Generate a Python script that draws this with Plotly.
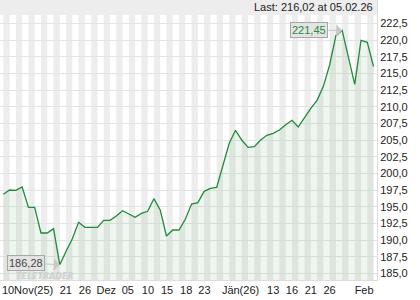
import plotly.graph_objects as go

# ---- data ----
prices = [196.85, 197.5, 197.45, 197.95, 194.9, 194.9, 191.05, 191.05, 191.7, 186.28,
          188.3, 190.2, 192.65, 191.9, 191.9, 191.9, 192.95, 192.95, 193.6, 194.4,
          193.9, 193.4, 194.0, 194.3, 196.2, 194.5, 190.6, 191.5, 191.5, 193.1,
          195.4, 195.6, 197.3, 197.75, 197.9, 201.2, 204.5, 206.45, 205.0, 203.9,
          204.0, 205.0, 205.7, 206.0, 206.5, 207.3, 207.95, 206.95, 208.45, 209.75,
          210.95, 213.05, 216.25, 220.65, 221.45, 217.4, 213.35, 219.95, 219.65, 216.02]
x_idx = list(range(len(prices)))

x_tick_pos = [3.86, 9.95, 13.0, 16.4, 19.85, 23.05, 26.1, 29.15, 32.05, 37.8, 43.0, 46.0, 49.0, 52.0, 57.5]
x_tick_labels = ["10Nov(25)", "21", "26", "Dez", "05", "10", "15", "18", "23",
                 "Jän(26)", "13", "16", "21", "26", "Feb"]
y_ticks = [185.0, 187.5, 190.0, 192.5, 195.0, 197.5, 200.0, 202.5, 205.0,
           207.5, 210.0, 212.5, 215.0, 217.5, 220.0, 222.5]
last_date = "05.02.26"

Y_MIN, Y_MAX = 184.0, 226.0
X_MIN, X_MAX = -0.53, 59.55
TOP_BAND = 1 - 15 / 280
STRIPE = "#ededed"

fmt = lambda v: f"{v:.2f}".replace(".", ",")

fig = go.Figure()
fig.add_trace(go.Scatter(
    x=x_idx, y=prices, mode="lines",
    line=dict(color="#1f8b3b", width=1.3),
    fill="tozeroy", fillcolor="rgba(40,120,40,0.075)",
    hoverinfo="skip", showlegend=False,
))

# top grey band
fig.add_shape(type="rect", xref="paper", yref="paper", x0=0, x1=1, y0=TOP_BAND, y1=1,
              fillcolor=STRIPE, line=dict(width=0), layer="below")
# alternating day stripes
for i in range(0, len(prices), 2):
    fig.add_shape(type="rect", xref="x", yref="paper", x0=i, x1=i + 1,
                  y0=0, y1=TOP_BAND, fillcolor=STRIPE, line=dict(width=0), layer="below")

imax = max(range(len(prices)), key=lambda k: prices[k])
imin = min(range(len(prices)), key=lambda k: prices[k])

annotations = [
    dict(x=imax, y=prices[imax], xref="x", yref="y", text=fmt(prices[imax]),
         showarrow=True, ax=-33, ay=0, arrowhead=1, arrowsize=2, arrowwidth=1,
         arrowcolor="#c8c8c8", standoff=0,
         bgcolor="rgba(225,225,225,0.9)", bordercolor="#a8a8a8", borderwidth=1, borderpad=1,
         font=dict(color="#2a8a3c", size=11, family="Arial")),
    dict(x=14 / 376.7, y=1 - 276.5 / 280, xref="paper", yref="paper", text="<b><i>TELETRADER</i></b>",
         showarrow=False, xanchor="left", yanchor="middle",
         font=dict(color="#d0d0d0", size=8, family="DejaVu Sans")),
    dict(x=imin, y=prices[imin], xref="x", yref="y", text=fmt(prices[imin]),
         showarrow=True, ax=-34, ay=-2, arrowhead=1, arrowsize=2, arrowwidth=1,
         arrowcolor="#c8c8c8", standoff=0,
         bgcolor="rgba(225,225,225,0.75)", bordercolor="#a8a8a8", borderwidth=1, borderpad=1,
         font=dict(color="#444444", size=11, family="Arial")),
    dict(x=1, y=1 - 7 / 280, xref="paper", yref="paper",
         text=f"Last: {fmt(prices[-1])} at {last_date}", showarrow=False,
         xanchor="right", yanchor="middle", xshift=-2,
         font=dict(color="#222222", size=11, family="Arial")),
]

fig.update_layout(
    width=420, height=300,
    margin=dict(l=0, r=43, t=0, b=20),
    plot_bgcolor="rgba(0,0,0,0)",
    separators=",.",
    annotations=annotations,
    font=dict(family="Arial", size=11, color="#333333"),
    xaxis=dict(range=[X_MIN, X_MAX], showgrid=False, zeroline=False,
               tickmode="array", tickvals=x_tick_pos, ticktext=x_tick_labels,
               ticks="", showline=True, linecolor="#dddddd", linewidth=1,
               tickfont=dict(size=11, color="#222222")),
    yaxis=dict(range=[Y_MIN, Y_MAX], side="right", showgrid=True, gridcolor="#e4e4e4",
               gridwidth=1, zeroline=False, tickmode="array", tickvals=y_ticks,
               tickformat=".1f", ticks="", showline=True, linecolor="#dddddd",
               tickfont=dict(size=11, color="#222222")),
)

fig.write_html("out.html")
